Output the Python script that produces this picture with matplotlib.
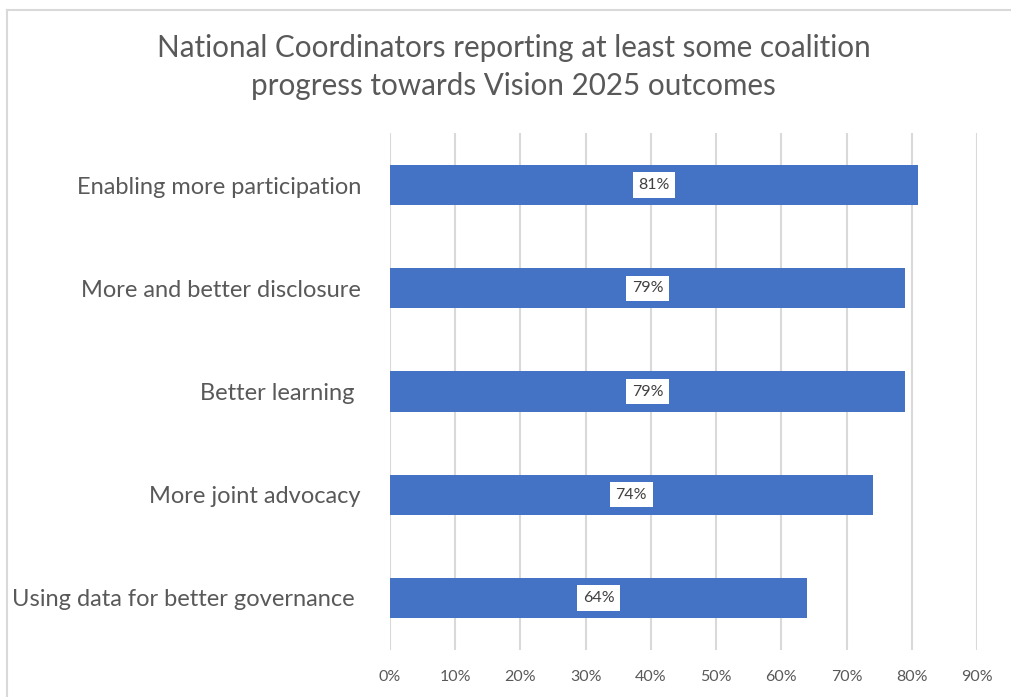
import matplotlib
matplotlib.use("Agg")
import matplotlib.pyplot as plt
from matplotlib.lines import Line2D

categories = ["Enabling more participation", "More and better disclosure", "Better learning ",
              "More joint advocacy", "Using data for better governance "]
values = [0.81, 0.79, 0.79, 0.74, 0.64]
value_labels = ["81%", "79%", "79%", "74%", "64%"]
xticks = [0.0, 0.1, 0.2, 0.3, 0.4, 0.5, 0.6, 0.7, 0.8, 0.9]
xtick_labels = ["0%", "10%", "20%", "30%", "40%", "50%", "60%", "70%", "80%", "90%"]
title = "National Coordinators reporting at least some coalition\nprogress towards Vision 2025 outcomes"

plt.rcParams['font.family'] = ['Lato', 'DejaVu Sans']
gray = "#595959"

fig = plt.figure(figsize=(10.11, 6.97), dpi=100)
ax = fig.add_axes([0.3858, 0.0681, 0.9664 - 0.3858, 0.8085 - 0.0681])

ypos = list(range(len(categories)))
ax.barh(ypos, values, height=0.39, color="#4472C4", zorder=3)
ax.set_ylim(len(categories) - 0.5, -0.5)
ax.set_xlim(0, 0.9)
ax.set_xticks(xticks)
ax.set_xticklabels(xtick_labels, fontsize=11.5, color=gray)
ax.set_yticks(ypos)
ax.set_yticklabels(categories, fontsize=17, color=gray)
ax.tick_params(axis='both', length=0)
ax.tick_params(axis='x', pad=15)
ax.tick_params(axis='y', pad=21)
ax.grid(axis='x', color="#d9d9d9", linewidth=1.5, zorder=0)
for s in ax.spines.values():
    s.set_visible(False)

for y, v, lab in zip(ypos, values, value_labels):
    ax.text(v / 2, y, lab, ha='center', va='center', fontsize=11.5, color="#404040", zorder=4,
            bbox=dict(boxstyle='square,pad=0.35', facecolor='white', edgecolor='none'))

fig.text(0.508, 0.904, title, ha='center', va='center', fontsize=21.3, color=gray, linespacing=1.45)

fig.add_artist(Line2D([7 / 1011, 1.0], [1 - 10 / 697, 1 - 10 / 697], transform=fig.transFigure,
                      color="#d9d9d9", linewidth=1.5))
fig.add_artist(Line2D([7 / 1011, 7 / 1011], [1 - 10 / 697, 0.0], transform=fig.transFigure,
                      color="#d9d9d9", linewidth=1.5))

fig.savefig("out.png", dpi=100, facecolor="white")
